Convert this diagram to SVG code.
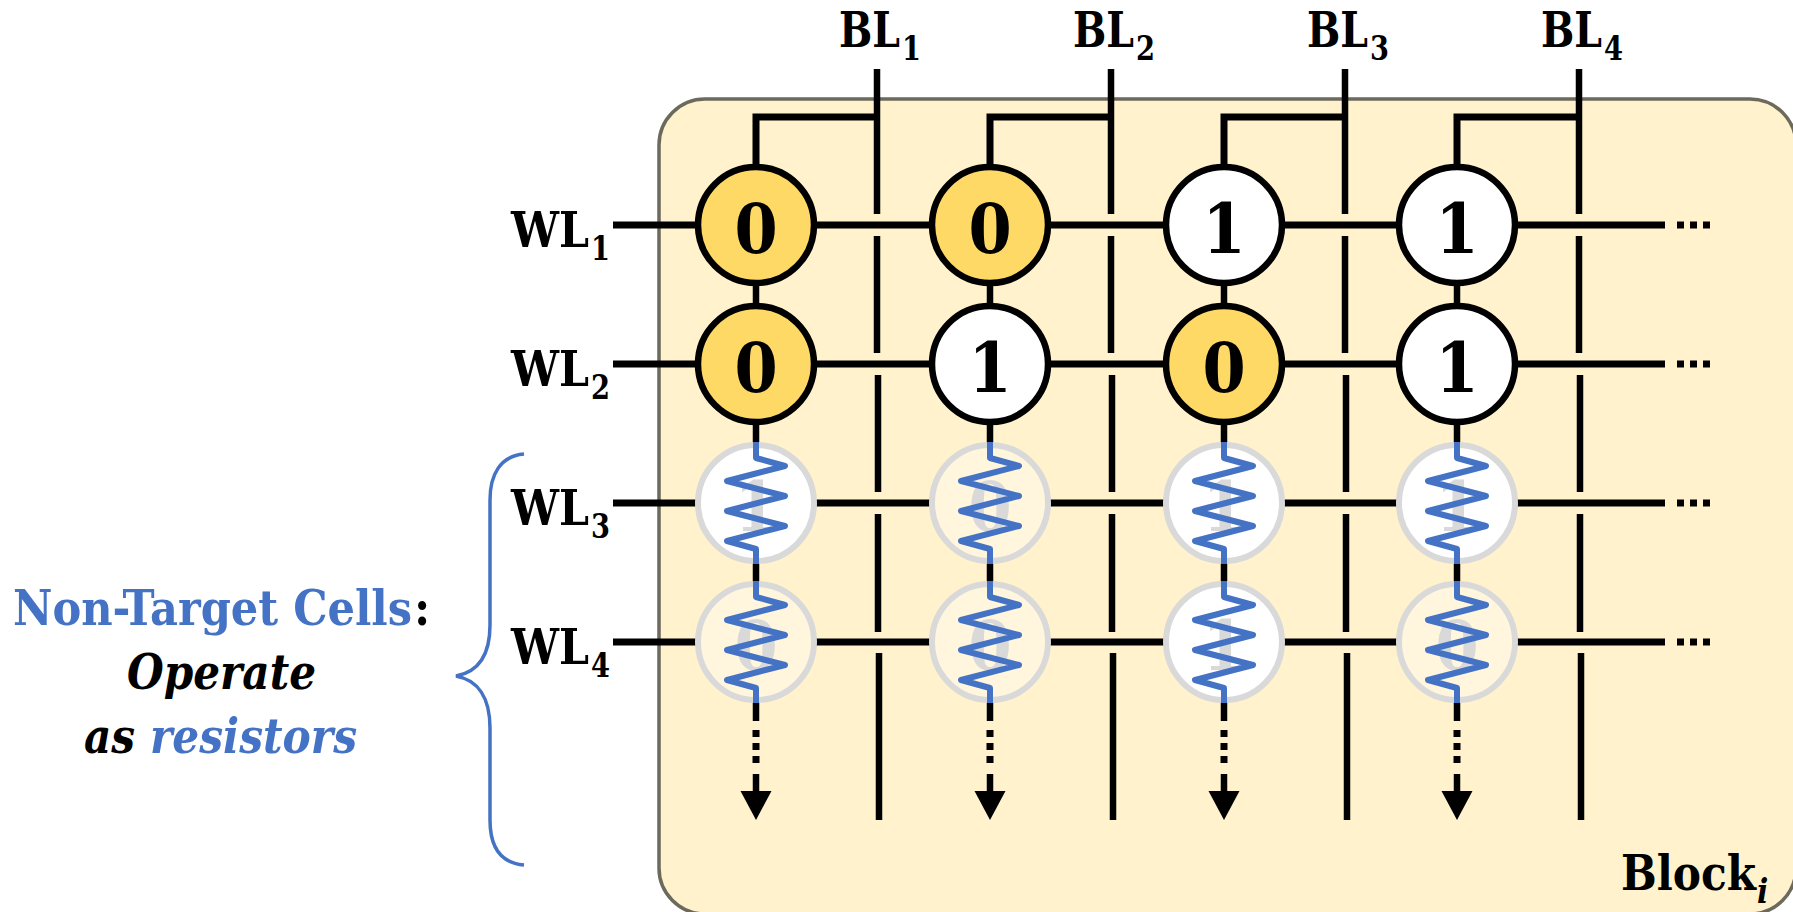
<svg xmlns="http://www.w3.org/2000/svg" width="1793" height="912" viewBox="0 0 1793 912">
<style>
text{font-family:"DejaVu Serif Condensed","DejaVu Serif","Liberation Serif",serif;font-weight:bold;fill:#000}
.l{font-size:49px}.s{font-size:33px}
.d{font-size:69px;text-anchor:middle}
.g{fill:#d9d9d9}
.w{stroke:#000;stroke-width:7;fill:none}
.v{stroke:#000;stroke-width:6.5;fill:none}
.dot{stroke:#000;stroke-width:7;fill:none;stroke-dasharray:7 6}
.c{stroke:#000;stroke-width:6.5}
.gold{fill:#ffd966}.wh{fill:#fff}
.nt{stroke:#d9d9d9;stroke-width:6;fill:#fff}
.nc{stroke:#d9d9d9;stroke-width:6;fill:#fff6dd}
.r{stroke:#4472c4;stroke-width:6;fill:none;stroke-linejoin:round}
.b{fill:#4472c4}
</style>
<defs>
<path id="res" class="r" d="M0-61V-45L29-37-29-22 29-7-29 8 29 23-29 38 0 46V61"/>
<path id="arrow" d="M-15.500 791H15.500L0 820Z" fill="#000"/>
</defs>
<rect id="block" x="659" y="99" width="1137" height="815" rx="46" fill="#fff2cc" stroke="#6b6a5c" stroke-width="3.500"/>
<g id="connectors">
<g id="bitlines">
<path class="v" d="M877 69V214M877 236V353M878 375V492M878 514V632M879 653V820"/>
<path class="v" d="M1111 69V214M1111 236V353M1112 375V492M1112 514V632M1113 653V820"/>
<path class="v" d="M1345 69V214M1345 236V353M1346 375V492M1346 514V632M1347 653V820"/>
<path class="v" d="M1579 69V214M1579 236V353M1580 375V492M1580 514V632M1581 653V820"/>
<path class="w" d="M877 117H756V170M1111 117H990V170M1345 117H1224V170M1579 117H1457V170"/>
</g>
<g id="wordlines">
<path class="w" d="M613 225H1665M613 364H1665M613 503H1665M613 642H1665"/>
<path class="dot" d="M1677 225H1710M1677 364H1710M1677 503H1710M1677 642H1710"/>
</g>
<g id="columns">
<path class="v" d="M756 225V721M990 225V721M1224 225V721M1457 225V721"/>
<path class="dot" d="M756 730V764M990 730V764M1224 730V764M1457 730V764"/>
<path class="v" d="M756 774V795M990 774V795M1224 774V795M1457 774V795"/>
<use href="#arrow" x="756"/><use href="#arrow" x="990"/><use href="#arrow" x="1224"/><use href="#arrow" x="1457"/>
</g>
</g>
<g id="cell-1-1"><circle cx="756" cy="225" r="58" class="c gold"/><text x="756" y="253" class="d">0</text></g>
<g id="cell-1-2"><circle cx="990" cy="225" r="58" class="c gold"/><text x="990" y="253" class="d">0</text></g>
<g id="cell-1-3"><circle cx="1224" cy="225" r="58" class="c wh"/><text x="1224" y="253" class="d">1</text></g>
<g id="cell-1-4"><circle cx="1457" cy="225" r="58" class="c wh"/><text x="1457" y="253" class="d">1</text></g>
<g id="cell-2-1"><circle cx="756" cy="364" r="58" class="c gold"/><text x="756" y="392" class="d">0</text></g>
<g id="cell-2-2"><circle cx="990" cy="364" r="58" class="c wh"/><text x="990" y="392" class="d">1</text></g>
<g id="cell-2-3"><circle cx="1224" cy="364" r="58" class="c gold"/><text x="1224" y="392" class="d">0</text></g>
<g id="cell-2-4"><circle cx="1457" cy="364" r="58" class="c wh"/><text x="1457" y="392" class="d">1</text></g>
<g id="cell-3-1"><circle cx="756" cy="503" r="58" class="nt"/><text x="756" y="531" class="d g">1</text><use href="#res" x="756" y="503"/></g>
<g id="cell-3-2"><circle cx="990" cy="503" r="58" class="nc"/><text x="990" y="531" class="d g">0</text><use href="#res" x="990" y="503"/></g>
<g id="cell-3-3"><circle cx="1224" cy="503" r="58" class="nt"/><text x="1224" y="531" class="d g">1</text><use href="#res" x="1224" y="503"/></g>
<g id="cell-3-4"><circle cx="1457" cy="503" r="58" class="nt"/><text x="1457" y="531" class="d g">1</text><use href="#res" x="1457" y="503"/></g>
<g id="cell-4-1"><circle cx="756" cy="642" r="58" class="nc"/><text x="756" y="670" class="d g">0</text><use href="#res" x="756" y="642"/></g>
<g id="cell-4-2"><circle cx="990" cy="642" r="58" class="nc"/><text x="990" y="670" class="d g">0</text><use href="#res" x="990" y="642"/></g>
<g id="cell-4-3"><circle cx="1224" cy="642" r="58" class="nt"/><text x="1224" y="670" class="d g">1</text><use href="#res" x="1224" y="642"/></g>
<g id="cell-4-4"><circle cx="1457" cy="642" r="58" class="nc"/><text x="1457" y="670" class="d g">0</text><use href="#res" x="1457" y="642"/></g>
<g id="labels-bl">
<text x="839" y="47" class="l" textLength="61" lengthAdjust="spacingAndGlyphs">BL</text><text x="902" y="60" class="s" textLength="19" lengthAdjust="spacingAndGlyphs">1</text>
<text x="1073" y="47" class="l" textLength="61" lengthAdjust="spacingAndGlyphs">BL</text><text x="1136" y="60" class="s" textLength="19" lengthAdjust="spacingAndGlyphs">2</text>
<text x="1307" y="47" class="l" textLength="61" lengthAdjust="spacingAndGlyphs">BL</text><text x="1370" y="60" class="s" textLength="19" lengthAdjust="spacingAndGlyphs">3</text>
<text x="1541" y="47" class="l" textLength="61" lengthAdjust="spacingAndGlyphs">BL</text><text x="1604" y="60" class="s" textLength="19" lengthAdjust="spacingAndGlyphs">4</text>
</g>
<g id="labels-wl">
<text x="511" y="247" class="l" textLength="78" lengthAdjust="spacingAndGlyphs">WL</text><text x="591" y="260" class="s" textLength="19" lengthAdjust="spacingAndGlyphs">1</text>
<text x="511" y="386" class="l" textLength="78" lengthAdjust="spacingAndGlyphs">WL</text><text x="591" y="399" class="s" textLength="19" lengthAdjust="spacingAndGlyphs">2</text>
<text x="511" y="525" class="l" textLength="78" lengthAdjust="spacingAndGlyphs">WL</text><text x="591" y="538" class="s" textLength="19" lengthAdjust="spacingAndGlyphs">3</text>
<text x="511" y="664" class="l" textLength="78" lengthAdjust="spacingAndGlyphs">WL</text><text x="591" y="677" class="s" textLength="19" lengthAdjust="spacingAndGlyphs">4</text>
</g>
<g id="block-label"><text x="1621" y="890" class="l" textLength="135" lengthAdjust="spacingAndGlyphs">Block</text><text x="1757" y="903" class="s" font-style="italic">i</text></g>
<path id="brace" d="M524 454C500 456 490 475 490 500V625C490 655 478 672 456 676C478 680 490 698 490 728V820C490 846 500 863 524 865" fill="none" stroke="#4472c4" stroke-width="3.500"/>
<g id="note">
<text x="13" y="625" class="l b" textLength="399" lengthAdjust="spacingAndGlyphs">Non-Target Cells</text><text x="414" y="625" class="l">:</text>
<text x="127" y="689" class="l" font-style="italic" textLength="189" lengthAdjust="spacingAndGlyphs">Operate</text>
<text x="84" y="753" class="l" font-style="italic" textLength="51" lengthAdjust="spacingAndGlyphs">as</text>
<text x="150" y="753" class="l b" font-style="italic" textLength="207" lengthAdjust="spacingAndGlyphs">resistors</text>
</g>
</svg>
